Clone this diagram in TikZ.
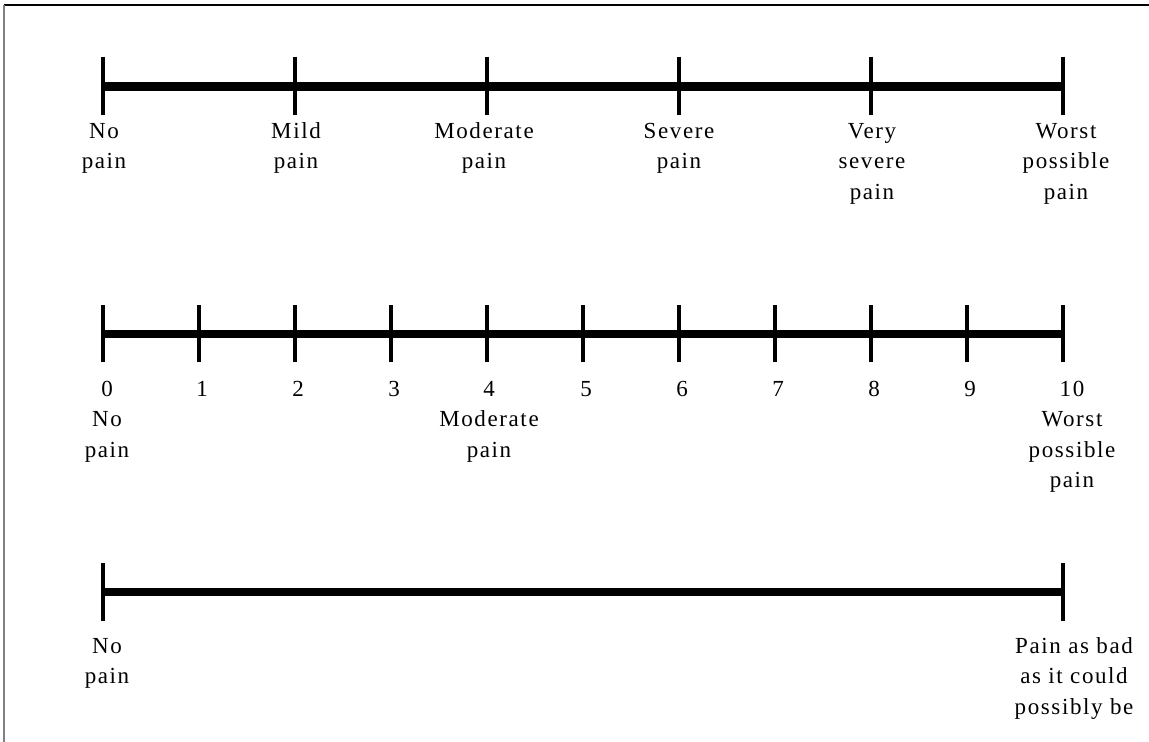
\documentclass[tikz,border=0pt]{standalone}
\usepackage{fontspec}
\setmainfont{Liberation Serif}[LetterSpace=7]
\begin{document}
\begin{tikzpicture}[x=1bp,y=-1bp,
  axisline/.style={line width=8.5bp},
  tickline/.style={line width=4.5bp},
  frameline/.style={line width=1.2bp},
  lbl/.style={font=\fontsize{23bp}{30.5bp}\selectfont, align=center, anchor=base, inner sep=0pt}]
\useasboundingbox (0,0) rectangle (1149,742);
% frame
\coordinate (fl) at (4,5);
\coordinate (fr) at (1149,5);
\coordinate (fb) at (4,742);
\draw[frameline, black] (fl) -- (fr);
\draw[frameline, gray] (fl) -- (fb);

% ---------- scale 1 ----------
\coordinate (a0) at (103,86.5);
\coordinate (a5) at (1063,86.5);
\draw[axisline] (a0) -- (a5);
\foreach \i in {0,...,5}{
  \coordinate (at\i) at (103+192*\i,57);
  \coordinate (ab\i) at (103+192*\i,115);
  \draw[tickline] (at\i) -- (ab\i);
}
% anchor=base is the baseline of the last line
\node[lbl] (l1a) at (104,168.5) {No\\pain};
\node[lbl] (l1b) at (296,168.5) {Mild\\pain};
\node[lbl] (l1c) at (484,168.5) {Moderate\\pain};
\node[lbl] (l1d) at (679,168.5) {Severe\\pain};
\node[lbl] (l1e) at (872,199) {Very\\severe\\pain};
\node[lbl] (l1f) at (1066,199) {Worst\\possible\\pain};

% ---------- scale 2 ----------
\coordinate (b0) at (103,334);
\coordinate (b10) at (1063,334);
\draw[axisline] (b0) -- (b10);
\foreach \i in {0,...,10}{
  \coordinate (bt\i) at (103+96*\i,305);
  \coordinate (bb\i) at (103+96*\i,362);
  \draw[tickline] (bt\i) -- (bb\i);
}
\node[lbl] (l2a) at (107,457) {0\\No\\pain};
\foreach \i in {1,2,3,5,6,7,8,9}{
  \node[lbl] (n\i) at (103+96*\i+3,396) {\i};
}
\node[lbl] (l2c) at (489,457) {4\\Moderate\\pain};
\node[lbl] (l2f) at (1072,487.5) {10\\Worst\\possible\\pain};

% ---------- scale 3 ----------
\coordinate (c0) at (103,592);
\coordinate (c1) at (1063,592);
\draw[axisline] (c0) -- (c1);
\coordinate (ct0) at (103,563);
\coordinate (cb0) at (103,621);
\coordinate (ct1) at (1063,563);
\coordinate (cb1) at (1063,621);
\draw[tickline] (ct0) -- (cb0);
\draw[tickline] (ct1) -- (cb1);
\node[lbl] (l3a) at (107,683.5) {No\\pain};
\node[lbl] (l3b) at (1074,714) {Pain as bad\\as it could\\possibly be};
\end{tikzpicture}
\end{document}
